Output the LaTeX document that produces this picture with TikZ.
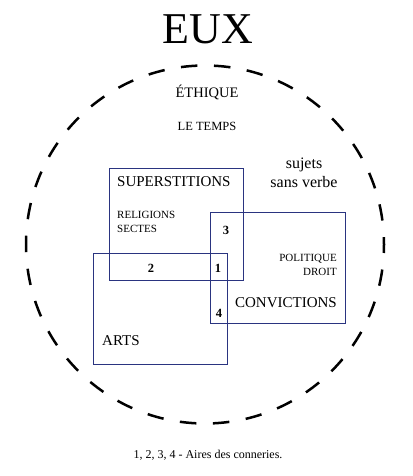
\documentclass[tikz,border=0pt]{standalone}
\usepackage{fontspec}
\setmainfont{Liberation Serif}

\definecolor{boxblue}{RGB}{42,52,128}

\tikzset{
  zone/.style={draw=boxblue, line width=1pt, minimum width=#1, inner sep=0pt},
  areanum/.style={font=\fontsize{12.5}{12.5}\selectfont\bfseries, inner sep=0pt},
  smalltext/.style={font=\fontsize{11}{13}\selectfont, inner sep=0pt},
  zonetitle/.style={font=\fontsize{15}{15}\selectfont, inner sep=0pt}
}

\begin{document}
\begin{tikzpicture}[x=1pt, y=-1pt]
  \useasboundingbox (0,0) rectangle (412,476);
  % title and the dashed circle
  \node[font=\fontsize{44}{44}\selectfont, inner sep=0pt] (title) at (208,29) {EUX};
  \draw[line width=2.5pt, dash pattern=on 16.5pt off 16.6pt, dash phase=8pt]
    (205,244.5) circle[radius=179];
  \node[font=\fontsize{14.5}{14.5}\selectfont, inner sep=0pt] (ethique) at (207,92) {ÉTHIQUE};
  \node[font=\fontsize{12.5}{12.5}\selectfont, inner sep=0pt] (temps) at (207,126) {LE TEMPS};
  \node[font=\fontsize{16}{19}\selectfont, align=center, inner sep=0pt] (sujets) at (304,173) {sujets\\sans verbe};
  % the three zones
  \node[zone=134pt, minimum height=112pt] (superstitions) at (176,224) {};
  \node[zone=135pt, minimum height=111pt] (convictions) at (277.5,267.5) {};
  \node[zone=134pt, minimum height=111pt] (arts) at (160,308.5) {};
  \node[zonetitle, anchor=west] (suptitle) at (117,182) {SUPERSTITIONS};
  \node[smalltext, anchor=west] (religions) at (117,215) {RELIGIONS};
  \node[smalltext, anchor=west] (sectes) at (117,229) {SECTES};
  \node[smalltext, anchor=east] (politique) at (337,259) {POLITIQUE};
  \node[smalltext, anchor=east] (droit) at (337,272) {DROIT};
  \node[zonetitle, anchor=east] (convtitle) at (337,303) {CONVICTIONS};
  \node[zonetitle, anchor=west] (artstitle) at (102,341) {ARTS};
  % overlap areas
  \node[areanum] (n3) at (226,230) {3};
  \node[areanum] (n2) at (151,268) {2};
  \node[areanum] (n1) at (218,268) {1};
  \node[areanum] (n4) at (219,313) {4};
  % legend
  \node[font=\fontsize{12}{12}\selectfont, inner sep=0pt] (legend) at (208,455) {1, 2, 3, 4 - Aires des conneries.};
\end{tikzpicture}
\end{document}
